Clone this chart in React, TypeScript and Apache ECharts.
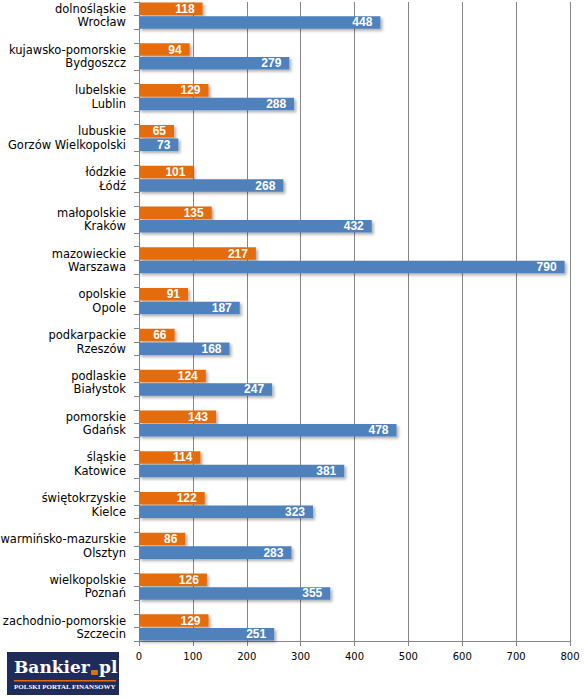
import React, { useEffect, useRef } from "react";
import * as echarts from "echarts";

// Voivodeships and their capital cities, top to bottom
const regions = [
  "dolnośląskie",
  "kujawsko-pomorskie",
  "lubelskie",
  "lubuskie",
  "łódzkie",
  "małopolskie",
  "mazowieckie",
  "opolskie",
  "podkarpackie",
  "podlaskie",
  "pomorskie",
  "śląskie",
  "świętokrzyskie",
  "warmińsko-mazurskie",
  "wielkopolskie",
  "zachodnio-pomorskie",
];
const cities = [
  "Wrocław",
  "Bydgoszcz",
  "Lublin",
  "Gorzów Wielkopolski",
  "Łódź",
  "Kraków",
  "Warszawa",
  "Opole",
  "Rzeszów",
  "Białystok",
  "Gdańsk",
  "Katowice",
  "Kielce",
  "Olsztyn",
  "Poznań",
  "Szczecin",
];
const regionValues = [118, 94, 129, 65, 101, 135, 217, 91, 66, 124, 143, 114, 122, 86, 126, 129];
const cityValues = [448, 279, 288, 73, 268, 432, 790, 187, 168, 247, 478, 381, 323, 283, 355, 251];
const xTicks = [0, 100, 200, 300, 400, 500, 600, 700, 800];

const ORANGE = "#E46C0A";
const BLUE = "#4F81BD";
const GRID = "#868686";

// Each group takes three slots on the category axis: region bar, city bar, spacer.
// The last group has no trailing spacer.
type Slot = { id: string; label: string; region: number | null; city: number | null };
const slots: Slot[] = [];
regions.forEach((r, i) => {
  slots.push({ id: `r${i}`, label: r, region: regionValues[i], city: null });
  slots.push({ id: `c${i}`, label: cities[i], region: null, city: cityValues[i] });
  if (i < regions.length - 1) slots.push({ id: `g${i}`, label: "", region: null, city: null });
});

const barShadow = {
  shadowColor: "rgba(0,0,0,0.32)",
  shadowBlur: 3,
  shadowOffsetX: 2,
  shadowOffsetY: 2,
};

const valueLabel = {
  show: true,
  position: "insideRight" as const,
  distance: 8,
  color: "#fff",
  fontFamily: "Liberation Sans",
  fontWeight: "bold" as const,
  fontSize: 12,
};

export default function App() {
  const ref = useRef<HTMLDivElement>(null);

  useEffect(() => {
    if (!ref.current) return;
    const chart = echarts.init(ref.current, null, { renderer: "svg" });
    chart.setOption({
      animation: false,
      grid: {
        left: 139,
        right: 17,
        top: 2,
        bottom: 57,
        containLabel: false,
        outerBoundsMode: "none",
      },
      xAxis: {
        type: "value",
        min: xTicks[0],
        max: xTicks[xTicks.length - 1],
        interval: 100,
        axisLine: { show: true, lineStyle: { color: GRID, width: 1 } },
        axisTick: { show: true, length: 5, lineStyle: { color: GRID } },
        splitLine: { show: true, lineStyle: { color: GRID, width: 1 } },
        axisLabel: {
          margin: 10,
          color: "#000",
          fontFamily: "DejaVu Sans",
          fontSize: 10,
        },
      },
      yAxis: {
        type: "category",
        inverse: true,
        data: slots.map((s) => s.id),
        axisLine: { show: true, lineStyle: { color: GRID, width: 1 } },
        axisTick: { show: true, length: 5, interval: 0, lineStyle: { color: GRID } },
        splitLine: { show: false },
        axisLabel: {
          interval: 0,
          margin: 13,
          color: "#000",
          fontFamily: "DejaVu Sans",
          fontSize: 11.5,
          formatter: (_v: string, idx: number) => slots[idx].label,
        },
      },
      series: [
        {
          name: "województwo",
          type: "bar",
          data: slots.map((s) => (s.region === null ? "-" : s.region)),
          barGap: "-100%",
          barCategoryGap: "8%",
          itemStyle: { color: ORANGE, ...barShadow },
          label: valueLabel,
        },
        {
          name: "miasto wojewódzkie",
          type: "bar",
          data: slots.map((s) => (s.city === null ? "-" : s.city)),
          barGap: "-100%",
          barCategoryGap: "8%",
          itemStyle: { color: BLUE, ...barShadow },
          label: valueLabel,
        },
      ],
      graphic: [
        {
          type: "group",
          left: 7,
          top: 652,
          children: [
            { type: "rect", shape: { x: 0, y: 0, width: 112, height: 43 }, style: { fill: "#1E2B5B" } },
            {
              type: "text",
              x: 7,
              y: 23,
              style: {
                text: "Bankier",
                fill: "#fff",
                font: "bold 17px 'DejaVu Serif'",
                textVerticalAlign: "bottom",
              },
            },
            { type: "rect", shape: { x: 84, y: 18, width: 7, height: 5, r: 1 }, style: { fill: ORANGE } },
            {
              type: "text",
              x: 92,
              y: 23,
              style: {
                text: "pl",
                fill: "#fff",
                font: "bold 17px 'DejaVu Serif'",
                textVerticalAlign: "bottom",
              },
            },
            { type: "rect", shape: { x: 7, y: 28, width: 102, height: 1.5 }, style: { fill: ORANGE } },
            {
              type: "text",
              x: 7,
              y: 35,
              style: {
                text: "POLSKI PORTAL FINANSOWY",
                fill: "#fff",
                font: "bold 7px 'Liberation Serif'",
                textVerticalAlign: "middle",
              },
            },
          ],
        },
      ],
    });
    return () => chart.dispose();
  }, []);

  return <div ref={ref} style={{ width: 587, height: 698, position: "absolute", left: 0, top: 0 }} />;
}
